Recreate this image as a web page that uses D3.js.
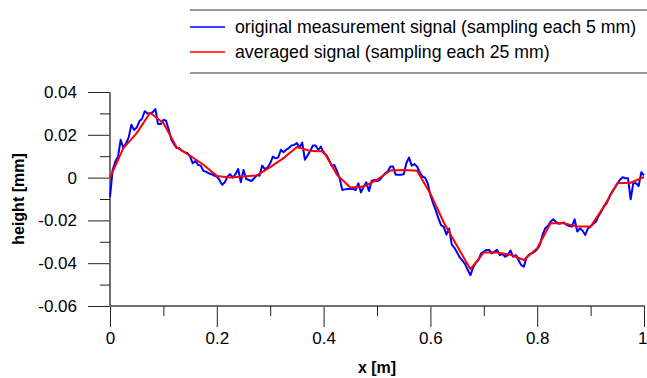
<!DOCTYPE html>
<html>
<head>
<meta charset="utf-8">
<script src="https://cdn.jsdelivr.net/npm/d3@7"></script>
<style>
  body { margin: 0; background: #fff; }
  svg { display: block; font-family: "Liberation Sans", Arial, sans-serif; }
</style>
</head>
<body>
<script>
// raw profile, one sample every 5 mm (x = i * 0.005 m)
var rawStep = 0.005;
var rawHeight = [
  -0.009, 0.0036, 0.0075, 0.0098, 0.0177, 0.0138, 0.016, 0.0188, 0.0247, 0.0223,
  0.0234, 0.0263, 0.0275, 0.031, 0.030, 0.030, 0.0306, 0.032, 0.025, 0.025,
  0.027, 0.0266, 0.0223, 0.0177, 0.0156, 0.0138, 0.0138, 0.0125, 0.0119, 0.0114,
  0.0098, 0.0067, 0.0078, 0.0059, 0.0056, 0.0031, 0.0028, 0.002, 0.0016, 0.0009,
  0.0005, -0.0011, -0.0034, -0.0022, 0.0005, 0.0016, 0, 0.0016, 0.004, -0.0022,
  0.0036, -0.0006, -0.0011, -0.0016, -0.0003, 0.0012, 0.0009, 0.0056, 0.004, 0.0047,
  0.0067, 0.0098, 0.009, 0.0094, 0.013, 0.0119, 0.013, 0.0138, 0.015, 0.0153,
  0.0161, 0.0141, 0.0164, 0.0083, 0.0103, 0.0125, 0.015, 0.015, 0.013, 0.0145,
  0.0114, 0.0106, 0.0083, 0.0056, 0.0059, 0.0031, -0.0003, -0.0058, -0.0055, -0.0053,
  -0.0053, -0.0053, -0.0058, -0.0027, -0.0069, -0.0042, -0.0022, -0.0063, -0.0016, -0.0011,
  -0.0016, -0.0011, 0.0005, 0.002, 0.0028, 0.0052, 0.0052, 0.0013, 0.0013, 0.0013,
  0.0016, 0.0067, 0.0094, 0.0056, 0.0063, 0.0052, 0.0025, 0.0005, 0, -0.0027,
  -0.0081, -0.012, -0.0152, -0.0191, -0.0222, -0.023, -0.0266, -0.0238, -0.0313, -0.0328,
  -0.035, -0.0373, -0.0388, -0.0404, -0.0432, -0.0456, -0.042, -0.0398, -0.0385, -0.0354,
  -0.0346, -0.0338, -0.0338, -0.0354, -0.0346, -0.0338, -0.0362, -0.0357, -0.037, -0.0362,
  -0.0341, -0.037, -0.0362, -0.0385, -0.0409, -0.0416, -0.0373, -0.0359, -0.0354, -0.0346,
  -0.0335, -0.0315, -0.0268, -0.0237, -0.0226, -0.0206, -0.0195, -0.0206, -0.0216, -0.0213,
  -0.021, -0.0221, -0.0226, -0.0229, -0.0195, -0.0252, -0.0237, -0.0248, -0.0268, -0.0237,
  -0.0229, -0.0216, -0.0206, -0.0179, -0.0159, -0.0135, -0.012, -0.0091, -0.0067, -0.0049,
  -0.0029, -0.001, 0.0002, -0.0003, -0.0003, -0.0101, -0.0026, -0.0026, -0.0039, 0.0025,
  0.001
];

// averaged profile, one sample every 25 mm
var avgStep = 0.025;
var avgHeight = [
  0, 0.0138, 0.0208, 0.0303, 0.0255, 0.0141, 0.0102, 0.006, 0.0008, 0.0,
  0.0005, 0.001, 0.0049, 0.0091, 0.0143, 0.0125, 0.0122, 0.0013, -0.0046, -0.0042,
  -0.001, 0.0033, 0.0036, 0.0032, -0.0075, -0.021, -0.032, -0.0428, -0.035, -0.035,
  -0.0361, -0.0385, -0.033, -0.0213, -0.0213, -0.0229, -0.0229, -0.0135, -0.0026, -0.0024,
  0.0003
];

var xTicks = [0, 0.2, 0.4, 0.6, 0.8, 1];
var xMinor = [0.1, 0.3, 0.5, 0.7, 0.9];
var yTicks = [0.04, 0.02, 0, -0.02, -0.04, -0.06];
var yMinor = [0.03, 0.01, -0.01, -0.03, -0.05];

var legendLabels = [
  "original measurement signal (sampling each 5 mm)",
  "averaged signal (sampling each 25 mm)"
];
var colors = ["#0000ff", "#ff0000"];

var width = 647, height = 378;
var svg = d3.select("body").append("svg")
  .attr("width", width)
  .attr("height", height);

var x = d3.scaleLinear().domain([0, 1]).range([110, 644]);
var y = d3.scaleLinear().domain([-0.06, 0.04]).range([306, 92]);

function fmt(v) {
  if (v === 0) return "0";
  return d3.format(".2~f")(v).replace("−", "-");
}

// x axis
var xAxis = svg.append("g").attr("transform", "translate(0,306)");
xAxis.call(d3.axisBottom(x).tickValues(xTicks).tickSize(21).tickFormat(function(d) { return d === 1 ? "1" : d === 0 ? "0" : d3.format(".1f")(d); }));
xAxis.append("g").call(d3.axisBottom(x).tickValues(xMinor).tickSize(10).tickFormat(""));
xAxis.selectAll(".domain").attr("stroke", "#666").attr("stroke-width", 1.5).attr("d", "M110,0H645");
xAxis.selectAll(".tick line").attr("stroke", "#222");
xAxis.selectAll(".tick text")
  .attr("font-size", 17)
  .attr("font-family", "Liberation Sans, Arial, sans-serif")
  .attr("fill", "#000")
  .attr("y", 26)
  .attr("dy", "0.71em");
// last label sits at the right edge of the picture
xAxis.selectAll(".tick text").filter(function(d) { return d === 1; })
  .attr("text-anchor", "end")
  .attr("x", 3);

// y axis
var yAxis = svg.append("g").attr("transform", "translate(110,0)");
yAxis.call(d3.axisLeft(y).tickValues(yTicks).tickSize(22).tickFormat(fmt));
yAxis.append("g").call(d3.axisLeft(y).tickValues(yMinor).tickSize(10).tickFormat(""));
yAxis.selectAll(".domain").attr("stroke", "#666").attr("stroke-width", 1.5).attr("d", "M0,92V307");
yAxis.selectAll(".tick line").attr("stroke", "#222");
yAxis.selectAll(".tick text")
  .attr("font-size", 17)
  .attr("font-family", "Liberation Sans, Arial, sans-serif")
  .attr("fill", "#000")
  .attr("x", -33);

// axis titles
svg.append("text")
  .attr("x", 377).attr("y", 373)
  .attr("text-anchor", "middle")
  .attr("font-size", 16)
  .attr("font-weight", "bold")
  .text("x [m]");

svg.append("text")
  .attr("transform", "translate(24,199) rotate(-90)")
  .attr("text-anchor", "middle")
  .attr("font-size", 16)
  .attr("font-weight", "bold")
  .text("height [mm]");

// signals
var line = d3.line()
  .x(function(d) { return x(d[0]); })
  .y(function(d) { return y(d[1]); });

var rawPts = rawHeight.map(function(v, i) { return [i * rawStep, v]; });
var avgPts = avgHeight.map(function(v, i) { return [i * avgStep, v]; });

svg.append("path")
  .datum(rawPts)
  .attr("fill", "none")
  .attr("stroke", colors[0])
  .attr("stroke-width", 2)
  .attr("stroke-linejoin", "round")
  .attr("d", line);

svg.append("path")
  .datum(avgPts)
  .attr("fill", "none")
  .attr("stroke", colors[1])
  .attr("stroke-width", 2)
  .attr("stroke-linejoin", "round")
  .attr("d", line);

// legend
var legend = svg.append("g");
legend.append("line").attr("x1", 190).attr("x2", 647).attr("y1", 10).attr("y2", 10)
  .attr("stroke", "#777").attr("stroke-width", 1.5);
legend.append("line").attr("x1", 190).attr("x2", 647).attr("y1", 73).attr("y2", 73)
  .attr("stroke", "#777").attr("stroke-width", 1.5);

legendLabels.forEach(function(lbl, i) {
  var cy = 27 + i * 25;
  legend.append("line")
    .attr("x1", 190).attr("x2", 225)
    .attr("y1", cy).attr("y2", cy)
    .attr("stroke", colors[i]).attr("stroke-width", 1.5);
  legend.append("text")
    .attr("x", 235).attr("y", cy)
    .attr("dy", "0.35em")
    .attr("font-size", 17.7)
    .text(lbl);
});
</script>
</body>
</html>
